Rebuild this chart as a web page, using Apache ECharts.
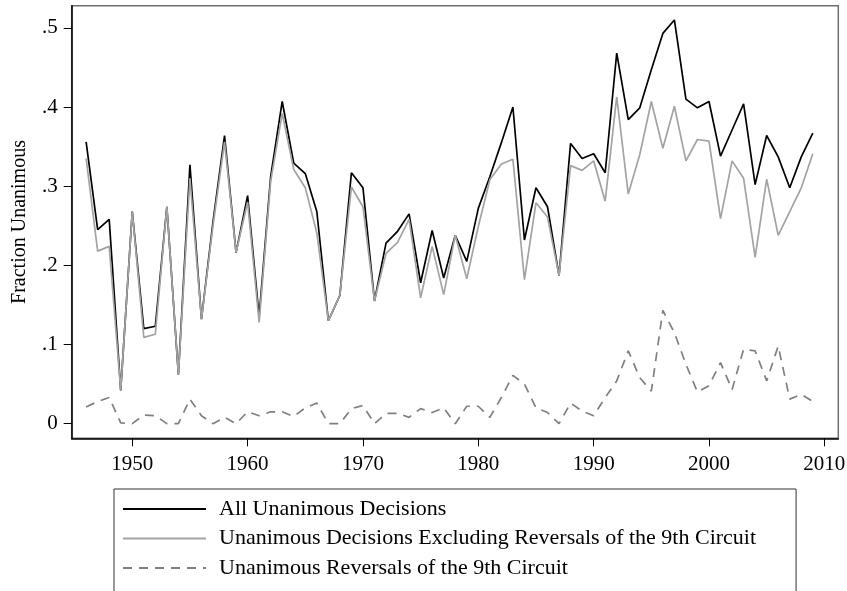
<!DOCTYPE html>
<html lang="en">
<head>
    <meta charset="UTF-8">
    <title>Fraction Unanimous</title>
    <style>
        body { margin: 0; background: #fff; }
        #chart { width: 847px; height: 591px; }
    </style>
</head>
<body>
    <div id="chart"></div>
    <script src="https://cdn.jsdelivr.net/npm/echarts@6/dist/echarts.min.js"></script>
    <script>
        // values
        const years = [];
        for (let y = 1946; y <= 2009; y++) years.push(y);

        const allUnanimous = [
            0.356, 0.245, 0.258, 0.042, 0.268, 0.120, 0.123, 0.274, 0.062, 0.327,
            0.132, 0.255, 0.364, 0.216, 0.288, 0.135, 0.312, 0.407, 0.329, 0.316,
            0.268, 0.130, 0.162, 0.317, 0.298, 0.155, 0.228, 0.243, 0.265, 0.178,
            0.244, 0.184, 0.238, 0.205, 0.272, 0.312, 0.355, 0.400, 0.232, 0.298,
            0.274, 0.187, 0.354, 0.335, 0.341, 0.317, 0.468, 0.384, 0.399, 0.447,
            0.493, 0.510, 0.410, 0.399, 0.407, 0.338, 0.371, 0.404, 0.302, 0.364,
            0.337, 0.298, 0.337, 0.367
        ];
        const exclNinth = [
            0.335, 0.218, 0.224, 0.042, 0.268, 0.109, 0.113, 0.274, 0.062, 0.310,
            0.132, 0.250, 0.356, 0.216, 0.280, 0.128, 0.306, 0.392, 0.321, 0.298,
            0.241, 0.130, 0.162, 0.299, 0.274, 0.155, 0.215, 0.229, 0.258, 0.159,
            0.224, 0.163, 0.238, 0.183, 0.249, 0.308, 0.328, 0.334, 0.182, 0.279,
            0.261, 0.187, 0.326, 0.320, 0.332, 0.281, 0.413, 0.290, 0.340, 0.407,
            0.348, 0.401, 0.332, 0.359, 0.357, 0.259, 0.332, 0.310, 0.210, 0.309,
            0.238, 0.268, 0.298, 0.341
        ];
        const ninthReversals = [
            0.021, 0.028, 0.033, 0.001, 0.000, 0.011, 0.010, 0.000, 0.000, 0.031,
            0.010, 0.000, 0.008, 0.000, 0.015, 0.010, 0.015, 0.015, 0.009, 0.020,
            0.026, 0.000, 0.000, 0.019, 0.023, 0.000, 0.013, 0.013, 0.008, 0.019,
            0.014, 0.020, 0.000, 0.022, 0.022, 0.008, 0.033, 0.061, 0.050, 0.020,
            0.014, 0.000, 0.026, 0.016, 0.010, 0.033, 0.054, 0.092, 0.058, 0.041,
            0.143, 0.115, 0.075, 0.040, 0.048, 0.077, 0.043, 0.094, 0.092, 0.054,
            0.098, 0.031, 0.037, 0.028
        ];
        const seriesNames = [
            'All Unanimous Decisions',
            'Unanimous Decisions Excluding Reversals of the 9th Circuit',
            'Unanimous Reversals of the 9th Circuit'
        ];
        const xTicks = [1950, 1960, 1970, 1980, 1990, 2000, 2010];
        const yTicks = [0, 0.1, 0.2, 0.3, 0.4, 0.5];

        const pairs = vals => years.map((y, i) => [y, vals[i]]);
        const font = 'Liberation Serif';

        const chart = echarts.init(document.getElementById('chart'));
        chart.setOption({
            animation: false,
            textStyle: { fontFamily: font },
            grid: {
                left: 71.7, right: 8.7, top: 5.7, bottom: 152.7,
                containLabel: false, outerBoundsMode: 'none',
                show: true, borderColor: '#6e6e6e', borderWidth: 1.5
            },
            legend: {
                orient: 'vertical',
                left: 114, top: 489, height: 150,
                padding: [9, 40, 30, 8],
                itemWidth: 83, itemHeight: 14, itemGap: 7.5,
                borderColor: '#333', borderWidth: 1,
                itemStyle: { opacity: 0 },
                textStyle: { fontFamily: font, fontSize: 22, color: '#000', padding: [0, 0, 0, 8], lineHeight: 22 },
                data: seriesNames
            },
            xAxis: {
                type: 'value', min: 1944.75, max: 2011.21,
                axisLine: { onZero: false, lineStyle: { color: '#000', width: 1.5 } },
                axisTick: { customValues: xTicks, length: 8, lineStyle: { color: '#000' } },
                axisLabel: {
                    customValues: xTicks, margin: 16, fontSize: 21, color: '#000', fontFamily: font,
                    formatter: v => String(v)
                },
                splitLine: { show: false }
            },
            yAxis: {
                type: 'value', min: -0.0185, max: 0.528,
                name: 'Fraction Unanimous', nameLocation: 'middle', nameGap: 42,
                nameTextStyle: { fontSize: 20, color: '#000', fontFamily: font },
                axisLine: { show: true, lineStyle: { color: '#000', width: 1.5 } },
                axisTick: { show: true, customValues: yTicks, length: 8, lineStyle: { color: '#000' } },
                axisLabel: {
                    customValues: yTicks, margin: 14, fontSize: 21, color: '#000', fontFamily: font,
                    formatter: v => v === 0 ? '0' : String(v).replace(/^0\./, '.')
                },
                splitLine: { show: false }
            },
            series: [
                {
                    name: seriesNames[0], type: 'line', data: pairs(allUnanimous),
                    symbol: 'none', lineStyle: { color: '#000', width: 1.7 }, itemStyle: { color: '#000' }
                },
                {
                    name: seriesNames[1], type: 'line', data: pairs(exclNinth),
                    symbol: 'none', lineStyle: { color: '#a3a3a3', width: 1.7 }, itemStyle: { color: '#a3a3a3' }
                },
                {
                    name: seriesNames[2], type: 'line', data: pairs(ninthReversals),
                    symbol: 'none', lineStyle: { color: '#808080', width: 1.7, type: [9, 7] }, itemStyle: { color: '#808080' }
                }
            ]
        });
    </script>
</body>
</html>
